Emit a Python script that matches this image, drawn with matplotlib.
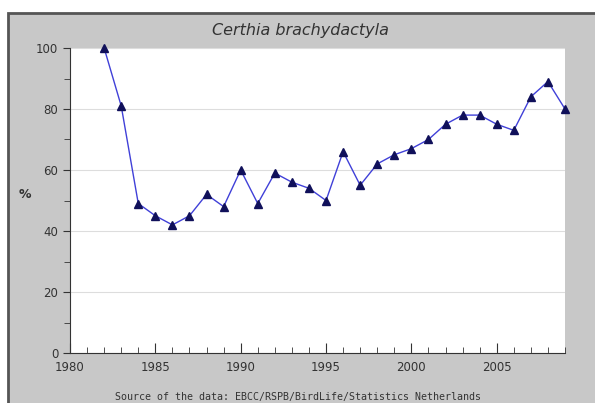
import matplotlib
matplotlib.use("Agg")
import matplotlib.pyplot as plt
from matplotlib.patches import Rectangle
from matplotlib.ticker import MultipleLocator

years = [1982, 1983, 1984, 1985, 1986, 1987, 1988, 1989, 1990, 1991,
         1992, 1993, 1994, 1995, 1996, 1997, 1998, 1999, 2000, 2001,
         2002, 2003, 2004, 2005, 2006, 2007, 2008, 2009]
index = [100, 81, 49, 45, 42, 45, 52, 48, 60, 49,
         59, 56, 54, 50, 66, 55, 62, 65, 67, 70,
         75, 78, 78, 75, 73, 84, 89, 80]
title = "Certhia brachydactyla"
source = "Source of the data: EBCC/RSPB/BirdLife/Statistics Netherlands"

fig = plt.figure(figsize=(5.95, 4.03), dpi=100, facecolor="white")
# grey panel with dark border (top/left), behind the axes
fig.add_artist(Rectangle((8 / 595, -0.05), 1, 1.05 - 13 / 403, transform=fig.transFigure,
                         facecolor="#c8c8c8", edgecolor="#555555", lw=2, zorder=-5))

ax = fig.add_axes([70 / 595, 1 - 353 / 403, 495 / 595, 305 / 403])
ax.set_facecolor("white")
ax.plot(years, index, color="#4040d8", lw=1, marker="^", ms=6,
        mfc="#10105a", mec="#10105a", zorder=3, clip_on=False)

ax.set_xlim(1980, 2009)
ax.set_ylim(0, 100)
ax.xaxis.set_major_locator(MultipleLocator(5))
ax.xaxis.set_minor_locator(MultipleLocator(1))
ax.yaxis.set_major_locator(MultipleLocator(20))
ax.yaxis.set_minor_locator(MultipleLocator(10))
ax.grid(axis="y", which="major", color="#dddddd", lw=0.8)
ax.set_axisbelow(True)

for s in ["top", "right"]:
    ax.spines[s].set_visible(False)
for s in ["left", "bottom"]:
    ax.spines[s].set_color("#333333")

ax.tick_params(axis="x", which="both", direction="in", colors="#333333", labelsize=8.5, pad=6)
ax.tick_params(axis="x", which="major", length=7)
ax.tick_params(axis="x", which="minor", length=4)
ax.tick_params(axis="y", which="both", direction="out", colors="#333333", labelsize=8.5)
ax.tick_params(axis="y", which="major", length=5)
ax.tick_params(axis="y", which="minor", length=4)

ax.set_ylabel("%", fontsize=9, fontweight="bold", color="#333333", rotation=0)
ax.yaxis.set_label_coords(-0.091, 0.5)
fig.text(300 / 595, 1 - 30 / 403, title, ha="center", va="center",
         fontsize=11.5, style="italic", color="#333333")
fig.text(298 / 595, 1 - 397 / 403, source, ha="center", va="center",
         fontsize=7.2, family="DejaVu Sans Mono", color="#333333")

fig.savefig("out.png", dpi=100, facecolor=fig.get_facecolor())
